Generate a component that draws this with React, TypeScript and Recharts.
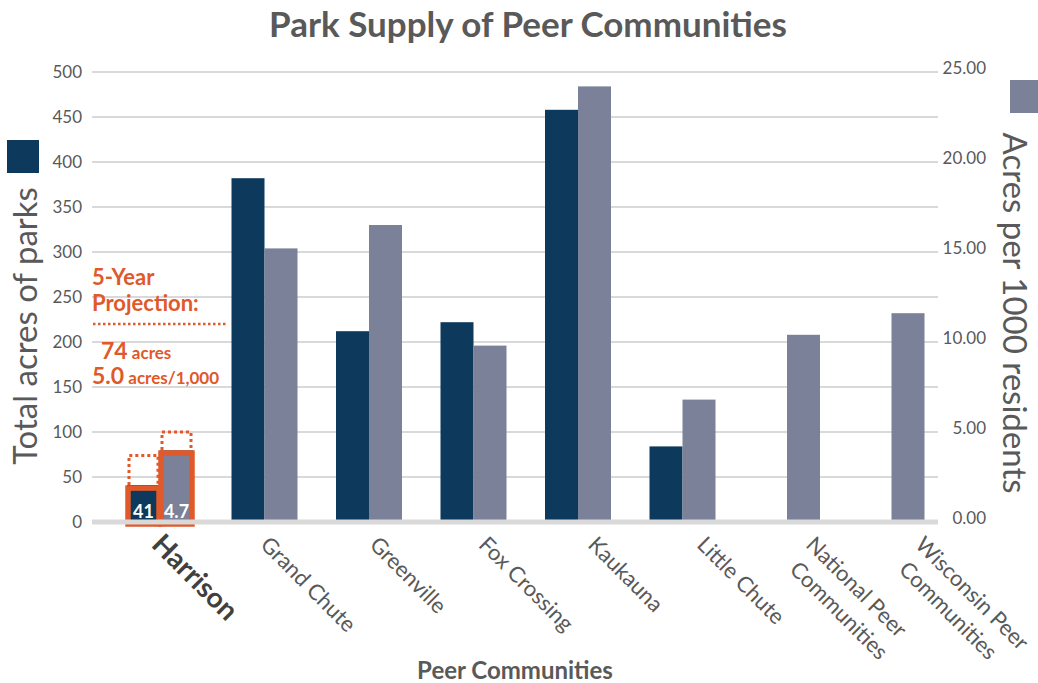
import { Bar, CartesianGrid, ComposedChart, XAxis, YAxis } from 'recharts'

const categories = [
  'Harrison',
  'Grand Chute',
  'Greenville',
  'Fox Crossing',
  'Kaukauna',
  'Little Chute',
  'National Peer\nCommunities',
  'Wisconsin Peer\nCommunities',
]
const totalAcres = [41, 382, 212, 222, 458, 84, null, null]
const acresPer1000 = [4.0, 15.2, 16.5, 9.8, 24.2, 6.8, 10.4, 11.6]
const harrisonLabels = ['41', '4.7']
const projectedAcres = 74
const projectedPer1000 = 5.0
const leftTicks = [0, 50, 100, 150, 200, 250, 300, 350, 400, 450, 500]
const rightTicks = [0, 5, 10, 15, 20, 25]

const NAVY = '#0d3a5c'
const SLATE = '#7a8199'
const ORANGE = '#e0592a'
const TEXT = '#595959'
const GRID = '#d9d9d9'
const FONT = 'Lato, sans-serif'

const data = categories.map((name, i) => ({
  name,
  total: totalAcres[i],
  per1000: acresPer1000[i],
}))

// Harrison gets the orange outline, a white value label and a dotted projection box
function makeShape(fill: string, label: string, projection: number) {
  return (props: any) => {
    const { x, y, width, height, index, value } = props
    const v = Array.isArray(value) ? value[1] - value[0] : value
    if (index !== 0) {
      return <rect x={x} y={y} width={width} height={height} fill={fill} />
    }
    const ppu = height / v
    const projTop = y + height - projection * ppu
    return (
      <g>
        <path
          d={`M${x + 2},${y} L${x + 2},${projTop} L${x + width - 2},${projTop} L${x + width - 2},${y}`}
          fill="none"
          stroke={ORANGE}
          strokeWidth={3}
          strokeDasharray="3 3"
        />
        <rect x={x} y={y} width={width} height={height} fill={fill} />
        <rect
          x={x + 1}
          y={y + 3}
          width={width - 2}
          height={height - 1}
          fill="none"
          stroke={ORANGE}
          strokeWidth={5.5}
        />
        <text
          x={x + width / 2}
          y={y + height - 4}
          textAnchor="middle"
          fill="#fff"
          fontFamily={FONT}
          fontWeight={700}
          fontSize={18}
        >
          {label}
        </text>
      </g>
    )
  }
}

const XTick = (props: any) => {
  const { x, y, payload, index } = props
  const lines = String(payload.value).split('\n')
  const first = index === 0
  const dx = -10 + 4.6 * index
  return (
    <g transform={`translate(${x + dx},${y + 24}) rotate(45)`}>
      {lines.map((line, i) => (
        <text
          key={i}
          x={i * 6}
          y={i * 29}
          fill={first ? '#404040' : TEXT}
          fontFamily={FONT}
          fontWeight={first ? 700 : 400}
          fontSize={first ? 28 : 22}
        >
          {line}
        </text>
      ))}
    </g>
  )
}

const LeftTick = (props: any) => {
  const { x, y, payload } = props
  return (
    <text x={x} y={y + 6} textAnchor="end" fill={TEXT} fontFamily={FONT} fontSize={17}>
      {payload.value}
    </text>
  )
}

const RightTick = (props: any) => {
  const { x, y, payload } = props
  return (
    <text x={x + 48} y={y + 2} textAnchor="end" fill={TEXT} fontFamily={FONT} fontSize={17}>
      {Number(payload.value).toFixed(2)}
    </text>
  )
}

export default function App() {
  return (
    <div
      style={{
        position: 'absolute',
        left: 0,
        top: 0,
        width: 1038,
        height: 683,
        background: '#fff',
        fontFamily: FONT,
      }}
    >
      <ComposedChart
        width={1038}
        height={683}
        data={data}
        margin={{ top: 72, right: 0, bottom: 0, left: 0 }}
        barGap={0}
      >
        <CartesianGrid vertical={false} stroke={GRID} strokeWidth={2} yAxisId="left" />
        <XAxis
          dataKey="name"
          interval={0}
          height={161}
          tickLine={false}
          tickSize={0}
          tickMargin={0}
          axisLine={{ stroke: GRID, strokeWidth: 5 }}
          padding={{ left: 16, right: -6 }}
          tick={<XTick />}
        />
        <YAxis
          yAxisId="left"
          width={92}
          domain={[0, 500]}
          ticks={leftTicks}
          axisLine={false}
          tickLine={false}
          tickSize={0}
          tickMargin={10}
          tick={<LeftTick />}
        />
        <YAxis
          yAxisId="right"
          orientation="right"
          width={100}
          domain={[0, 25]}
          ticks={rightTicks}
          axisLine={false}
          tickLine={false}
          tickSize={0}
          tickMargin={0}
          tick={<RightTick />}
        />
        <Bar
          yAxisId="left"
          dataKey="total"
          fill={NAVY}
          barSize={33}
          isAnimationActive={false}
          shape={makeShape(NAVY, harrisonLabels[0], projectedAcres)}
        />
        <Bar
          yAxisId="right"
          dataKey="per1000"
          fill={SLATE}
          barSize={33}
          isAnimationActive={false}
          shape={makeShape(SLATE, harrisonLabels[1], projectedPer1000)}
        />
      </ComposedChart>

      <svg
        width={1038}
        height={683}
        style={{ position: 'absolute', left: 0, top: 0, pointerEvents: 'none' }}
      >
        <text x={528} y={37} textAnchor="middle" fill={TEXT} fontFamily={FONT} fontWeight={700} fontSize={35}>
          Park Supply of Peer Communities
        </text>
        <text x={515} y={679} textAnchor="middle" fill={TEXT} fontFamily={FONT} fontWeight={700} fontSize={24}>
          Peer Communities
        </text>

        <rect x={7} y={140} width={32} height={33} fill={NAVY} />
        <text
          transform="translate(37,326) rotate(-90)"
          textAnchor="middle"
          fill={TEXT}
          fontFamily={FONT}
          fontSize={33}
        >
          Total acres of parks
        </text>

        <rect x={1010} y={80} width={33} height={33} fill={SLATE} />
        <text
          transform="translate(1003,313) rotate(90)"
          textAnchor="middle"
          fill={TEXT}
          fontFamily={FONT}
          fontSize={33}
        >
          Acres per 1000 residents
        </text>

        <g fill={ORANGE} fontFamily={FONT} fontWeight={700}>
          <text x={92} y={285} fontSize={22}>5-Year</text>
          <text x={92} y={311} fontSize={22}>Projection:</text>
          <line x1={93} y1={324} x2={227} y2={324} stroke={ORANGE} strokeWidth={2.5} strokeDasharray="2.5 2.5" />
          <text x={101} y={359}>
            <tspan fontSize={23}>{projectedAcres}</tspan>
            <tspan fontSize={17}> acres</tspan>
          </text>
          <text x={92} y={384}>
            <tspan fontSize={23}>{projectedPer1000.toFixed(1)}</tspan>
            <tspan fontSize={17}> acres/1,000</tspan>
          </text>
        </g>
      </svg>
    </div>
  )
}
